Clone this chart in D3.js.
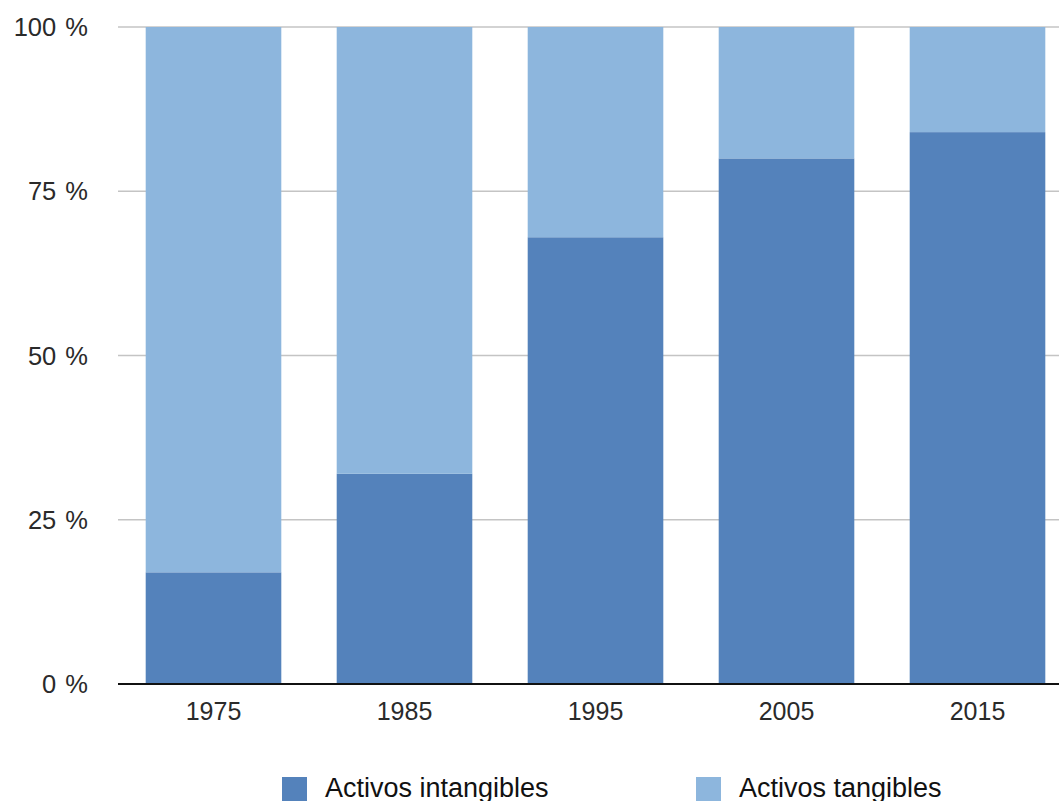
<!DOCTYPE html>
<html>
<head>
<meta charset="utf-8">
<script src="https://cdn.jsdelivr.net/npm/d3@7"></script>
<style>
  html, body { margin: 0; padding: 0; background: #fff; overflow: hidden; }
  svg { display: block; font-family: "Liberation Sans", Arial, Helvetica, sans-serif; }
</style>
</head>
<body>
<svg id="chart" width="1059" height="801"></svg>
<script>
// Share of intangible vs tangible assets by year (percent)
const years = ["1975", "1985", "1995", "2005", "2015"];
const intangibles = [17, 32, 68, 80, 84];
const tangibles = [83, 68, 32, 20, 16];
const yTicks = [0, 25, 50, 75, 100];
const seriesNames = ["Activos intangibles", "Activos tangibles"];
const seriesColors = ["#5482bb", "#8db6dd"];

const svg = d3.select("#chart");
const plotLeft = 118, plotRight = 1073, plotTop = 27, plotBottom = 684;

const x = d3.scaleBand().domain(years).range([plotLeft, plotRight])
  .paddingInner(0.29).paddingOuter(0.145);
const y = d3.scaleLinear().domain([0, 100]).range([plotBottom, plotTop]);

// Horizontal gridlines
svg.append("g").selectAll("line").data(yTicks.filter(t => t > 0)).join("line")
  .attr("x1", plotLeft).attr("x2", 1059)
  .attr("y1", d => y(d)).attr("y2", d => y(d))
  .attr("stroke", "#c4c4c4").attr("stroke-width", 1.5);

// Stacked bars
const rows = years.map((yr, i) => ({ year: yr, a: intangibles[i], b: tangibles[i] }));
const stack = d3.stack().keys(["a", "b"])(rows);
svg.append("g").selectAll("g").data(stack).join("g")
  .attr("fill", (d, i) => seriesColors[i])
  .selectAll("rect").data(d => d).join("rect")
  .attr("x", d => x(d.data.year))
  .attr("width", x.bandwidth())
  .attr("y", d => y(d[1]))
  .attr("height", d => y(d[0]) - y(d[1]));

// Baseline
svg.append("line")
  .attr("x1", plotLeft).attr("x2", 1059)
  .attr("y1", y(0)).attr("y2", y(0))
  .attr("stroke", "#111").attr("stroke-width", 2);

// Y axis labels
svg.append("g").selectAll("text").data(yTicks).join("text")
  .attr("x", 88).attr("y", d => y(d))
  .attr("dy", "0.36em")
  .attr("text-anchor", "end")
  .attr("font-size", 25.5).attr("word-spacing", 2).attr("fill", "#2a2a2a")
  .text(d => d + " %");

// X axis labels
svg.append("g").selectAll("text").data(years).join("text")
  .attr("x", d => x(d) + x.bandwidth() / 2)
  .attr("y", y(0) + 36)
  .attr("text-anchor", "middle")
  .attr("font-size", 25).attr("fill", "#2a2a2a")
  .text(d => d);

// Legend
const legendX = [282, 696];
const lg = svg.append("g").selectAll("g").data(seriesNames).join("g")
  .attr("transform", (d, i) => `translate(${legendX[i]},777)`);
lg.append("rect").attr("width", 25).attr("height", 25)
  .attr("fill", (d, i) => seriesColors[i]);
lg.append("text").attr("x", 43).attr("y", 20)
  .attr("font-size", 27).attr("fill", "#111")
  .text(d => d);
</script>
</body>
</html>
